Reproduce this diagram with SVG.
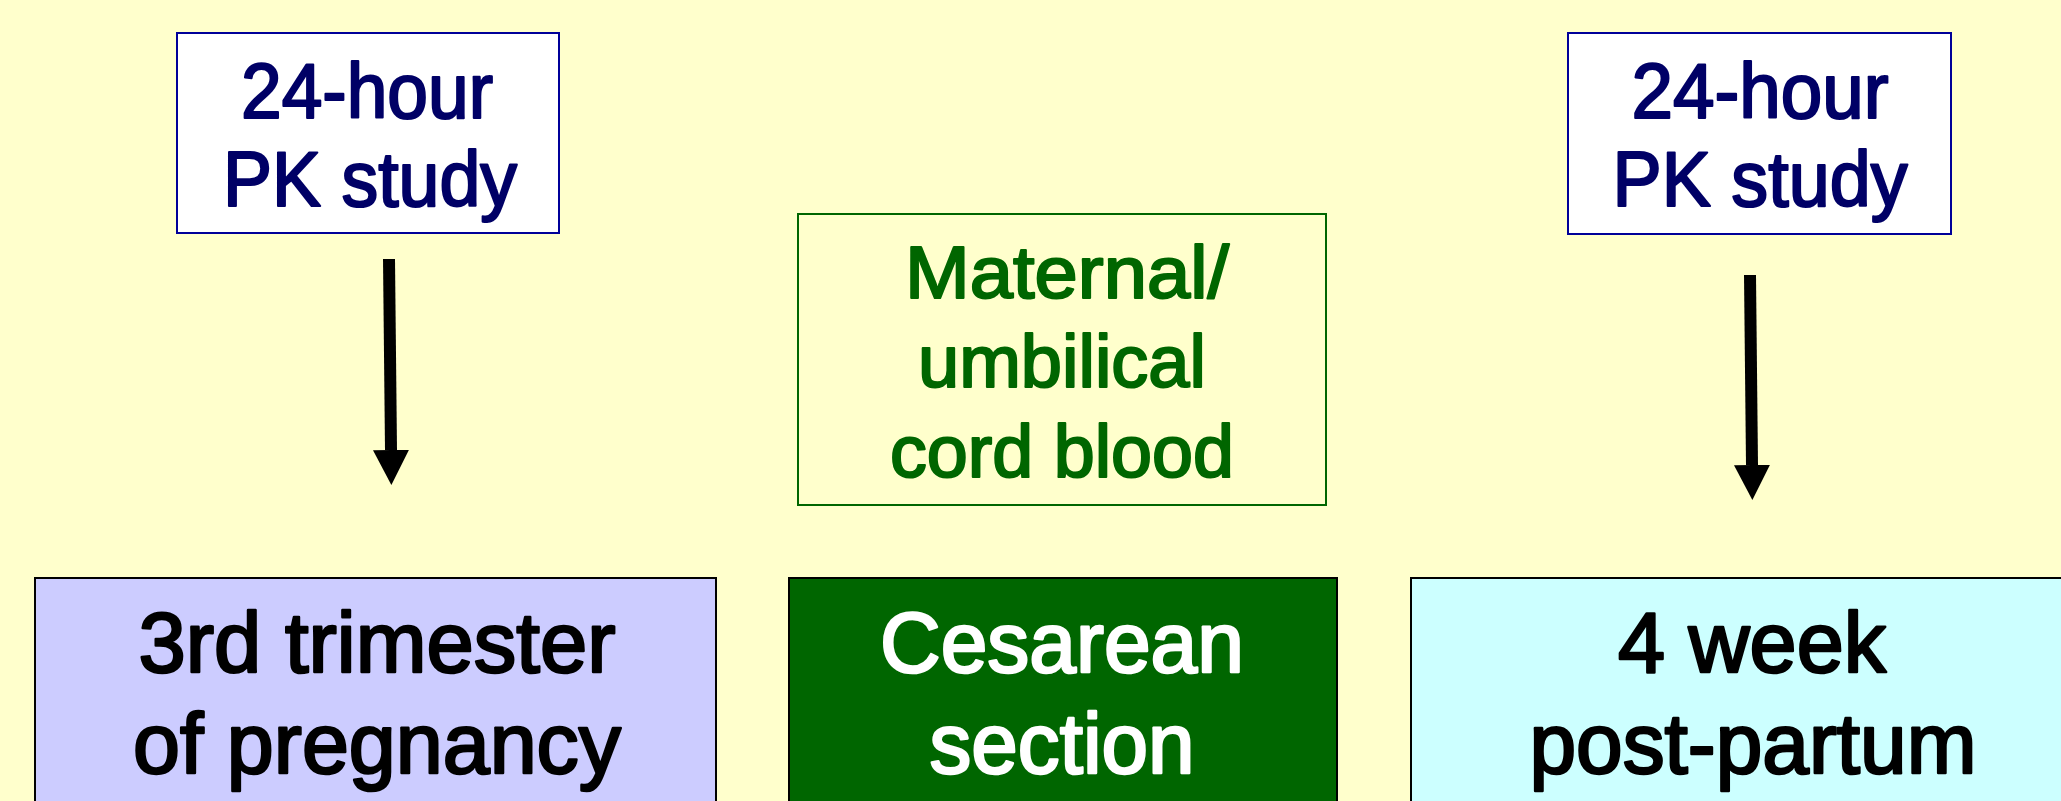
<svg xmlns="http://www.w3.org/2000/svg" width="2061" height="801" viewBox="0 0 2061 801">
<style>
  text { font-family: "Liberation Sans", Arial, sans-serif; text-anchor: middle; stroke-linejoin: round; }
  .pk rect { fill: #FFFFFF; stroke: #000099; stroke-width: 2; }
  .pk text { fill: #000066; stroke: #000066; stroke-width: 2.2; font-size: 77px; }
  .cord rect { fill: #FFFFCC; stroke: #006600; stroke-width: 2; }
  .cord text { fill: #006600; stroke: #006600; stroke-width: 2.2; font-size: 75px; }
  .stage rect { stroke: #000000; stroke-width: 2; }
  .stage text { fill: #000000; stroke: #000000; stroke-width: 2.6; font-size: 86px; }
  .stage text.light { fill: #FFFFFF; stroke: #FFFFFF; }
  .arrow { stroke: #000000; stroke-width: 12; fill: none; marker-end: url(#head); }
</style>
<defs>
  <marker id="head" markerUnits="userSpaceOnUse" viewBox="0 0 35 36" markerWidth="35" markerHeight="36" refX="0" refY="18" orient="auto">
    <path d="M0,0 L35,18 L0,36 Z" fill="#000000"/>
  </marker>
</defs>
<rect x="0" y="0" width="2061" height="801" fill="#FFFFCC"/>

<g id="pk-left" class="pk">
  <rect x="177" y="33" width="382" height="200"/>
  <text x="367" y="118" textLength="252" lengthAdjust="spacingAndGlyphs">24-hour</text>
  <text x="370" y="206" textLength="294" lengthAdjust="spacingAndGlyphs">PK study</text>
</g>

<g id="pk-right" class="pk">
  <rect x="1568" y="33" width="383" height="201"/>
  <text x="1760" y="118" textLength="257" lengthAdjust="spacingAndGlyphs">24-hour</text>
  <text x="1760" y="206" textLength="295" lengthAdjust="spacingAndGlyphs">PK study</text>
</g>

<g id="cord-blood" class="cord">
  <rect x="798" y="214" width="528" height="291"/>
  <text x="1067" y="298" textLength="324" lengthAdjust="spacingAndGlyphs">Maternal/</text>
  <text x="1062" y="387" textLength="288" lengthAdjust="spacingAndGlyphs">umbilical</text>
  <text x="1062" y="477" textLength="344" lengthAdjust="spacingAndGlyphs">cord blood</text>
</g>

<g id="third-trimester" class="stage">
  <rect x="35" y="578" width="681" height="240" fill="#CCCCFF"/>
  <text x="377" y="672" textLength="477" lengthAdjust="spacingAndGlyphs">3rd trimester</text>
  <text x="377" y="773" textLength="488" lengthAdjust="spacingAndGlyphs">of pregnancy</text>
</g>

<g id="cesarean" class="stage">
  <rect x="789" y="578" width="548" height="240" fill="#006600"/>
  <text class="light" x="1062" y="672" textLength="364" lengthAdjust="spacingAndGlyphs">Cesarean</text>
  <text class="light" x="1062" y="773" textLength="265" lengthAdjust="spacingAndGlyphs">section</text>
</g>

<g id="postpartum" class="stage">
  <rect x="1411" y="578" width="682" height="240" fill="#CCFFFF"/>
  <text x="1752" y="672" textLength="268" lengthAdjust="spacingAndGlyphs">4 week</text>
  <text x="1753" y="773" textLength="447" lengthAdjust="spacingAndGlyphs">post-partum</text>
</g>

<g id="connectors">
  <line class="arrow" x1="389" y1="259" x2="391" y2="450"/>
  <line class="arrow" x1="1750" y1="275" x2="1752" y2="465"/>
</g>
</svg>
